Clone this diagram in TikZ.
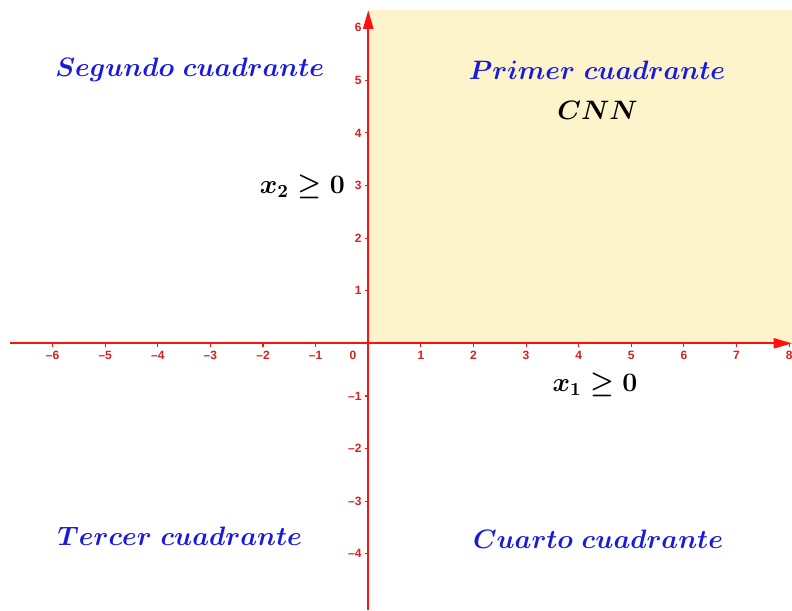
\documentclass[tikz,border=0pt]{standalone}
\usepackage{amsmath}
\usepackage{amssymb}
\usepackage{xcolor}
\usepackage{fontspec}
\usepackage{tikz}
\usetikzlibrary{arrows.meta}
\newfontfamily\ticksans{Liberation Sans}
\definecolor{quadblue}{HTML}{1A1ADC}
\definecolor{axisred}{HTML}{FF1010}
\definecolor{tickred}{HTML}{D82020}
\definecolor{cnnyellow}{HTML}{FDF4CB}

\begin{document}
\begin{tikzpicture}[
  axis/.style={axisred, line width=1.1pt, -{Triangle[length=10pt,width=5.5pt]}},
  quadlabel/.style={quadblue, font=\Large},
  condlabel/.style={black, font=\Large},
  ticklabel/.style={tickred, inner sep=0pt, font=\ticksans\bfseries\fontsize{6.5}{7}\selectfont}]
  \useasboundingbox (-7.0,-5.07) rectangle (8.055,6.527);
  \coordinate (O) at (0,0);
  \coordinate (W) at (-6.81,0);
  \coordinate (E) at (8.055,0);
  \coordinate (S) at (0,-5.07);
  \coordinate (N) at (0,6.33);
  \coordinate (NE) at (8.055,6.33);
  \fill[cnnyellow] (O) rectangle (NE);
  \draw[axis] (W) -- (E);
  \draw[axis] (S) -- (N);
  % marcas de los ejes
  \foreach \i in {-6,...,-1,1,2,...,8} {
    \pgfmathtruncatemacro\a{abs(\i)}
    \draw[axisred, line width=0.6pt] (\i,0) -- (\i,-0.06);
    \node[ticklabel] (xt\a\ifnum\i<0 n\fi) at (\i,-0.23) {\ifnum\i<0 \textendash\fi\a};
  }
  \foreach \j in {-4,...,-1,1,2,...,6} {
    \pgfmathtruncatemacro\b{abs(\j)}
    \draw[axisred, line width=0.6pt] (0,\j) -- (-0.06,\j);
    \node[ticklabel, anchor=east] (yt\b\ifnum\j<0 n\fi) at (-0.12,\j) {\ifnum\j<0 \textendash\fi\b};
  }
  \node[ticklabel] (cero) at (-0.29,-0.23) {0};
  % cuadrantes
  \node[quadlabel] (primer)  at (4.35,5.2)   {$\boldsymbol{Primer\ cuadrante}$};
  \node[quadlabel] (segundo) at (-3.39,5.2)  {$\boldsymbol{Segundo\ cuadrante}$};
  \node[quadlabel] (tercer)  at (-3.58,-3.66) {$\boldsymbol{Tercer\ cuadrante}$};
  \node[quadlabel] (cuarto)  at (4.37,-3.72) {$\boldsymbol{Cuarto\ cuadrante}$};
  \node[condlabel] (cnn) at (4.36,4.43) {$\boldsymbol{CNN}$};
  \node[condlabel, anchor=east, inner sep=0pt] (cond2) at (-0.44,2.97) {$\boldsymbol{x_2\geq 0}$};
  \node[condlabel] (cond1) at (4.31,-0.78) {$\boldsymbol{x_1\geq 0}$};
\end{tikzpicture}
\end{document}
